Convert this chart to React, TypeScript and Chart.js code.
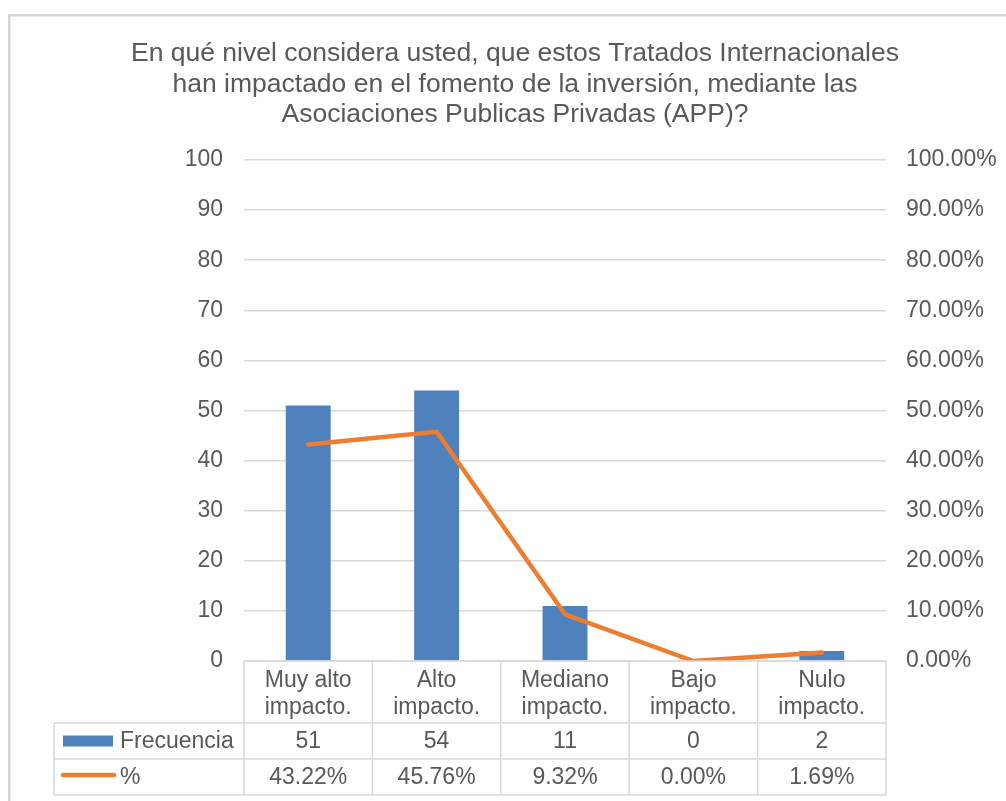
import React, { useEffect, useRef } from "react";
import { Chart, registerables } from "chart.js";

Chart.register(...registerables);

const titleLines = [
  "En qué nivel considera usted, que estos Tratados Internacionales",
  "han impactado en el fomento de la inversión, mediante las",
  "Asociaciones Publicas Privadas (APP)?",
];
const categories = [
  ["Muy alto", "impacto."],
  ["Alto", "impacto."],
  ["Mediano", "impacto."],
  ["Bajo", "impacto."],
  ["Nulo", "impacto."],
];
const frecuencia = [51, 54, 11, 0, 2];
const porcentaje = [43.22, 45.76, 9.32, 0.0, 1.69];
const seriesNames = ["Frecuencia", "%"];

const FONT = '"Liberation Sans", Arial, sans-serif';
const TEXT = "#595959";
const GRID = "#d9d9d9";
const BLUE = "#4f81bd";
const ORANGE = "#ed7d31";

const decorPlugin = {
  id: "decor",
  beforeDraw(chart: any) {
    const ctx = chart.ctx;
    ctx.save();
    ctx.fillStyle = "#ffffff";
    ctx.fillRect(0, 0, chart.width, chart.height);
    ctx.fillStyle = "#d6d6d6";
    ctx.fillRect(8, 14, chart.width - 8, 2.5);
    ctx.fillRect(8, 14, 2.5, chart.height - 14);
    ctx.restore();
  },
  afterDraw(chart: any) {
    const ctx = chart.ctx;
    const xs = chart.scales.x;
    const area = chart.chartArea;
    ctx.save();
    // title
    ctx.fillStyle = TEXT;
    ctx.font = `26.5px ${FONT}`;
    ctx.textAlign = "center";
    ctx.textBaseline = "alphabetic";
    const tBase = [60.5, 91.5, 122];
    titleLines.forEach((l, i) => ctx.fillText(l, 515, tBase[i]));

    // data table
    const n = categories.length;
    const half = (xs.getPixelForValue(1) - xs.getPixelForValue(0)) / 2;
    const left = area.left;
    const right = area.right;
    const top = area.bottom;
    const r1 = top + 62;
    const r2 = r1 + 36;
    const r3 = r2 + 36;
    const legLeft = 54;
    ctx.strokeStyle = GRID;
    ctx.lineWidth = 1.5;
    const line = (x1: number, y1: number, x2: number, y2: number) => {
      ctx.beginPath();
      ctx.moveTo(x1, y1);
      ctx.lineTo(x2, y2);
      ctx.stroke();
    };
    line(left, top, right, top);
    line(legLeft, r1, right, r1);
    line(legLeft, r2, right, r2);
    line(legLeft, r3, right, r3);
    line(legLeft, r1, legLeft, r3);
    for (let i = 0; i <= n; i++) {
      const x = i < n ? xs.getPixelForValue(i) - half : xs.getPixelForValue(n - 1) + half;
      line(x, top, x, r3);
    }
    ctx.fillStyle = TEXT;
    ctx.font = `23px ${FONT}`;
    ctx.textAlign = "center";
    for (let i = 0; i < n; i++) {
      const cx = xs.getPixelForValue(i);
      ctx.textBaseline = "alphabetic";
      ctx.fillText(categories[i][0], cx, top + 26);
      ctx.fillText(categories[i][1], cx, top + 53);
      ctx.textBaseline = "middle";
      ctx.fillText(String(frecuencia[i]), cx, (r1 + r2) / 2 + 1);
      ctx.fillText(porcentaje[i].toFixed(2) + "%", cx, (r2 + r3) / 2 + 1);
    }
    // legend keys
    ctx.fillStyle = BLUE;
    ctx.fillRect(63, (r1 + r2) / 2 - 5.5, 50, 11);
    ctx.strokeStyle = ORANGE;
    ctx.lineWidth = 4.5;
    ctx.lineCap = "round";
    line(63, (r2 + r3) / 2 - 2, 114, (r2 + r3) / 2 - 2);
    ctx.fillStyle = TEXT;
    ctx.textAlign = "left";
    ctx.textBaseline = "middle";
    ctx.fillText(seriesNames[0], 120, (r1 + r2) / 2 + 1);
    ctx.fillText(seriesNames[1], 120, (r2 + r3) / 2 + 1);
    ctx.restore();
  },
};

export default function App() {
  const ref = useRef<HTMLCanvasElement>(null);
  useEffect(() => {
    if (!ref.current) return;
    const chart = new Chart(ref.current, {
      type: "bar",
      data: {
        labels: categories.map((c) => c.join(" ")),
        datasets: [
          {
            type: "line",
            label: seriesNames[1],
            data: porcentaje,
            yAxisID: "y1",
            borderColor: ORANGE,
            backgroundColor: ORANGE,
            borderWidth: 4.5,
            pointRadius: 0,
            tension: 0,
            borderCapStyle: "round",
            borderJoinStyle: "round",
            order: 0,
          } as any,
          {
            type: "bar",
            label: seriesNames[0],
            data: frecuencia,
            yAxisID: "y",
            backgroundColor: BLUE,
            barPercentage: 0.35,
            categoryPercentage: 1,
            order: 1,
          },
        ],
      },
      plugins: [decorPlugin],
      options: {
        responsive: false,
        animation: false,
        layout: { padding: { left: 0, right: 0, top: 160, bottom: 140 } },
        plugins: {
          legend: { display: false },
          title: { display: false },
          tooltip: { enabled: false },
        },
        scales: {
          x: { display: false },
          y: {
            position: "left",
            min: 0,
            max: 100,
            ticks: {
              stepSize: 10,
              padding: 21,
              color: TEXT,
              font: { family: FONT, size: 23 },
            },
            grid: { color: GRID, lineWidth: 1.5, drawTicks: false },
            border: { display: false },
            afterFit: (s: any) => {
              s.width = 244;
            },
          },
          y1: {
            position: "right",
            min: 0,
            max: 100,
            ticks: {
              stepSize: 10,
              padding: 20,
              color: TEXT,
              font: { family: FONT, size: 23 },
              callback: (v: any) => Number(v).toFixed(2) + "%",
            },
            grid: { drawOnChartArea: false, drawTicks: false },
            border: { display: false },
            afterFit: (s: any) => {
              s.width = 120;
            },
          },
        },
      } as any,
    });
    return () => chart.destroy();
  }, []);
  return (
    <div style={{ position: "fixed", left: 0, top: 0, width: 1006, height: 801 }}>
      <canvas ref={ref} width={1006} height={801} />
    </div>
  );
}
